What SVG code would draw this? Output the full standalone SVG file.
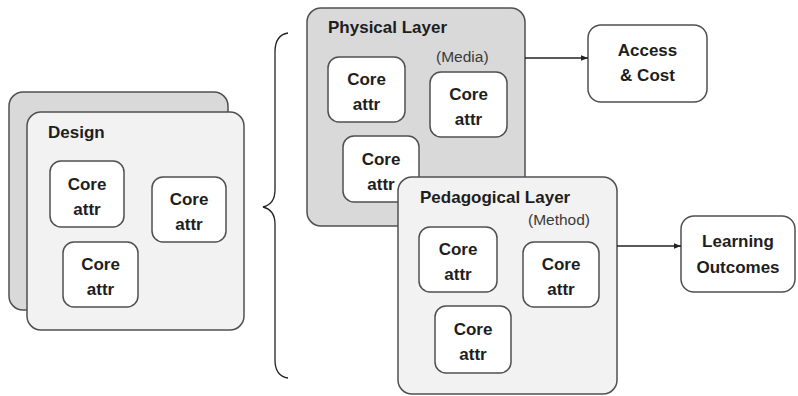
<svg xmlns="http://www.w3.org/2000/svg" width="798" height="396" viewBox="0 0 798 396">
<defs>
<style>
.big{stroke:#505050;stroke-width:1.5}
.core{fill:#fff;stroke:#505050;stroke-width:1.5}
.t{font-family:"Liberation Sans",Arial,sans-serif;font-weight:bold;font-size:17px;fill:#1e1e1e}
.c{text-anchor:middle}
.s{font-family:"Liberation Sans",Arial,sans-serif;font-size:15.5px;fill:#3a3a3a}
.ln{stroke:#222;stroke-width:1.3;fill:none}
</style>
<marker id="ah" viewBox="0 0 10 10" refX="10" refY="5" markerWidth="7" markerHeight="7" markerUnits="userSpaceOnUse" orient="auto">
<path d="M0,1 L10,5 L0,9 z" fill="#222"/>
</marker>
</defs>
<rect width="798" height="396" fill="#fff"/>

<g id="design">
<rect class="big" x="9" y="92" width="219" height="218" rx="14" fill="#d9d9d9"/>
<rect class="big" x="27" y="112" width="217" height="218" rx="14" fill="#f2f2f2"/>
<text class="t" x="48" y="138">Design</text>
<g id="design-core1"><rect class="core" x="50" y="161" width="74" height="66" rx="11"/>
<text class="t c" x="87" y="190">Core</text><text class="t c" x="87" y="215">attr</text></g>
<g id="design-core2"><rect class="core" x="152" y="177" width="74" height="65" rx="11"/>
<text class="t c" x="189" y="205">Core</text><text class="t c" x="189" y="230">attr</text></g>
<g id="design-core3"><rect class="core" x="63" y="242" width="75" height="65" rx="11"/>
<text class="t c" x="100.5" y="270">Core</text><text class="t c" x="100.5" y="295">attr</text></g>
</g>

<g id="brace">
<path class="ln" d="M288,33 Q275,35 275,52 L275,190 Q275,204 263,207 Q275,210 275,224 L275,360 Q275,376 288,378" stroke="#333"/>
</g>

<g id="physical">
<rect class="big" x="307" y="8" width="218" height="218" rx="14" fill="#d9d9d9"/>
<text class="t" x="328" y="33">Physical Layer</text>
<text class="s" x="436" y="62">(Media)</text>
<g id="phys-core1"><rect class="core" x="328" y="57" width="77" height="65" rx="11"/>
<text class="t c" x="366.5" y="85">Core</text><text class="t c" x="366.5" y="110">attr</text></g>
<g id="phys-core2"><rect class="core" x="430" y="72" width="77" height="65" rx="11"/>
<text class="t c" x="468.5" y="100">Core</text><text class="t c" x="468.5" y="125">attr</text></g>
<g id="phys-core3"><rect class="core" x="343" y="136" width="76" height="66" rx="11"/>
<text class="t c" x="381" y="165">Core</text><text class="t c" x="381" y="190">attr</text></g>
</g>

<g id="pedagogical">
<rect class="big" x="398" y="177" width="219" height="217" rx="14" fill="#f2f2f2"/>
<text class="t" x="420" y="203">Pedagogical Layer</text>
<text class="s" x="528" y="225">(Method)</text>
<g id="ped-core1"><rect class="core" x="419" y="227" width="78" height="65" rx="11"/>
<text class="t c" x="458" y="255">Core</text><text class="t c" x="458" y="280">attr</text></g>
<g id="ped-core2"><rect class="core" x="523" y="242" width="76" height="65" rx="11"/>
<text class="t c" x="561" y="270">Core</text><text class="t c" x="561" y="295">attr</text></g>
<g id="ped-core3"><rect class="core" x="435" y="306" width="76" height="67" rx="11"/>
<text class="t c" x="473" y="335">Core</text><text class="t c" x="473" y="360">attr</text></g>
</g>

<g id="access">
<rect class="core" x="588" y="25" width="119" height="77" rx="13"/>
<text class="t c" x="647.5" y="56">Access</text>
<text class="t c" x="647.5" y="81">&amp; Cost</text>
</g>

<g id="outcomes">
<rect class="core" x="681" y="216" width="114" height="76" rx="13"/>
<text class="t c" x="738" y="247">Learning</text>
<text class="t c" x="738" y="273">Outcomes</text>
</g>

<g id="connectors">
<line class="ln" x1="525" y1="58" x2="588" y2="58" marker-end="url(#ah)"/>
<line class="ln" x1="617" y1="246" x2="681" y2="246" marker-end="url(#ah)"/>
</g>
</svg>
